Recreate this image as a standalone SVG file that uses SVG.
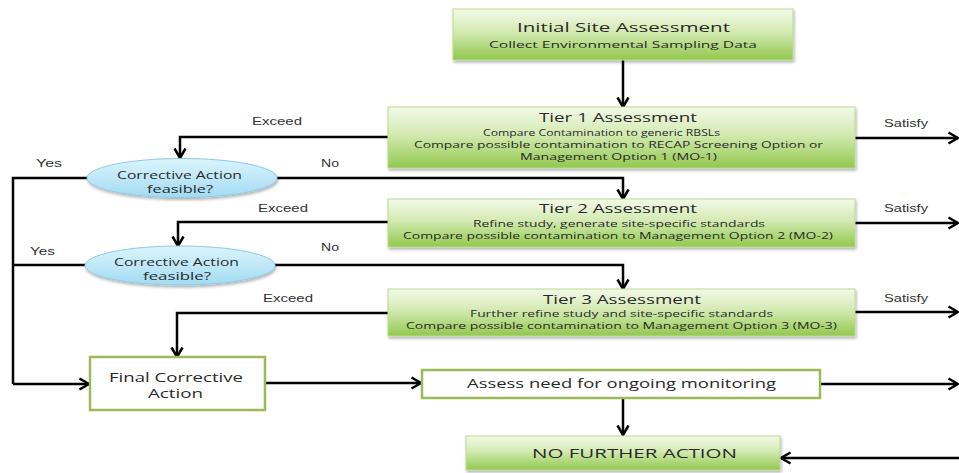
<svg xmlns="http://www.w3.org/2000/svg" width="959" height="473" viewBox="0 0 959 473">
  <style>
    .head { font-family: "Open Sans", "Liberation Sans", sans-serif; font-size: 13.5px; fill: #2a2a2a; }
    .sub { font-family: "Open Sans", "Liberation Sans", sans-serif; font-size: 9.3px; fill: #2a2a2a; }
    .dec { font-family: "Open Sans", "Liberation Sans", sans-serif; font-size: 10.5px; fill: #2a2a2a; }
    .plain { font-family: "Open Sans", "Liberation Sans", sans-serif; font-size: 12.5px; fill: #2a2a2a; }
    .lbl { font-family: "Liberation Sans", Arial, sans-serif; font-size: 10.5px; fill: #333333; }
    .gbox { fill: url(#green); stroke: #b9db92; stroke-width: 1; filter: url(#shadow); }
    .wbox { fill: #ffffff; stroke: #9bbb59; stroke-width: 2.5; }
    .decision { fill: url(#blue); stroke: #8ccbe4; stroke-width: 1; filter: url(#shadow); }
    .wire { fill: none; stroke: #000000; stroke-width: 2.5; stroke-linejoin: miter; }
    .wire.arrow { marker-end: url(#arrow); }
  </style>
  <defs>
    <linearGradient id="green" x1="0" y1="0" x2="0" y2="1">
      <stop offset="0" stop-color="#f3f9e8"/>
      <stop offset="0.45" stop-color="#d3eab2"/>
      <stop offset="1" stop-color="#92c84d"/>
    </linearGradient>
    <linearGradient id="blue" x1="0" y1="0" x2="0" y2="1">
      <stop offset="0" stop-color="#dcf4fd"/>
      <stop offset="1" stop-color="#a2dbf2"/>
    </linearGradient>
    <filter id="shadow" x="-5%" y="-15%" width="110%" height="140%">
      <feDropShadow dx="1" dy="2" stdDeviation="1.5" flood-color="#000000" flood-opacity="0.3"/>
    </filter>
    <marker id="arrow" markerUnits="userSpaceOnUse" markerWidth="14" markerHeight="14" refX="11" refY="7" orient="auto">
      <path d="M1.5,1.5 L11,7 L1.5,12.5" fill="none" stroke="#000000" stroke-width="2.5"/>
    </marker>
  </defs>

  <!-- connectors -->
  <g id="connectors">
    <path class="wire arrow" d="M623,60 V107"/>
    <!-- tier 1 -->
    <path class="wire arrow" d="M389,137 H180 V158"/>
    <path class="wire arrow" d="M855,138 H958"/>
    <path class="wire" d="M87,178 H13 V384"/>
    <path class="wire arrow" d="M277,178 H623 V199"/>
    <!-- tier 2 -->
    <path class="wire arrow" d="M389,222 H178 V246"/>
    <path class="wire arrow" d="M855,223 H958"/>
    <path class="wire" d="M85,265 H13"/>
    <path class="wire arrow" d="M275,265 H623 V289"/>
    <!-- tier 3 -->
    <path class="wire arrow" d="M389,313 H177 V357"/>
    <path class="wire arrow" d="M855,312 H958"/>
    <!-- final stages -->
    <path class="wire arrow" d="M13,384 H89"/>
    <path class="wire arrow" d="M266,383 H421"/>
    <path class="wire arrow" d="M821,384 H958"/>
    <path class="wire arrow" d="M623,398 V435"/>
    <path class="wire arrow" d="M959,458 H781"/>
    <!-- branch labels -->
    <text class="lbl" x="252" y="125" textLength="50" lengthAdjust="spacingAndGlyphs">Exceed</text>
    <text class="lbl" x="258" y="212" textLength="50" lengthAdjust="spacingAndGlyphs">Exceed</text>
    <text class="lbl" x="263" y="302" textLength="50" lengthAdjust="spacingAndGlyphs">Exceed</text>
    <text class="lbl" x="36" y="167" textLength="26" lengthAdjust="spacingAndGlyphs">Yes</text>
    <text class="lbl" x="30" y="255" textLength="25" lengthAdjust="spacingAndGlyphs">Yes</text>
    <text class="lbl" x="321" y="167" textLength="18" lengthAdjust="spacingAndGlyphs">No</text>
    <text class="lbl" x="321" y="251" textLength="18" lengthAdjust="spacingAndGlyphs">No</text>
    <text class="lbl" x="884" y="127" textLength="44" lengthAdjust="spacingAndGlyphs">Satisfy</text>
    <text class="lbl" x="884" y="212" textLength="44" lengthAdjust="spacingAndGlyphs">Satisfy</text>
    <text class="lbl" x="884" y="302" textLength="44" lengthAdjust="spacingAndGlyphs">Satisfy</text>
  </g>

  <g id="initial-assessment">
    <rect class="gbox" x="453" y="9" width="340" height="51"/>
    <text class="head" x="517" y="32" font-size="14.5" textLength="213" lengthAdjust="spacingAndGlyphs">Initial Site Assessment</text>
    <text class="sub" x="489" y="48" font-size="10.5" textLength="268" lengthAdjust="spacingAndGlyphs">Collect Environmental Sampling Data</text>
  </g>

  <g id="tier1">
    <rect class="gbox" x="388" y="107" width="467" height="61"/>
    <text class="head" x="539" y="122" textLength="158" lengthAdjust="spacingAndGlyphs">Tier 1 Assessment</text>
    <text class="sub" x="483" y="135.5" textLength="237" lengthAdjust="spacingAndGlyphs">Compare Contamination to generic RBSLs</text>
    <text class="sub" x="414" y="147.5" textLength="409" lengthAdjust="spacingAndGlyphs">Compare possible contamination to RECAP Screening Option or</text>
    <text class="sub" x="520" y="159.5" textLength="197" lengthAdjust="spacingAndGlyphs">Management Option 1 (MO-1)</text>
  </g>

  <g id="decision1">
    <ellipse class="decision" cx="182" cy="178" rx="95" ry="19.5"/>
    <text class="dec" x="117" y="178.5" textLength="125" lengthAdjust="spacingAndGlyphs">Corrective Action</text>
    <text class="dec" x="147" y="193" textLength="66" lengthAdjust="spacingAndGlyphs">feasible?</text>
  </g>

  <g id="tier2">
    <rect class="gbox" x="388" y="199" width="467" height="48"/>
    <text class="head" x="539" y="213" textLength="158" lengthAdjust="spacingAndGlyphs">Tier 2 Assessment</text>
    <text class="sub" x="473" y="226.5" textLength="292" lengthAdjust="spacingAndGlyphs">Refine study, generate site-specific standards</text>
    <text class="sub" x="403" y="239" textLength="430" lengthAdjust="spacingAndGlyphs">Compare possible contamination to Management Option 2 (MO-2)</text>
  </g>

  <g id="decision2">
    <ellipse class="decision" cx="180" cy="265.5" rx="95" ry="19.5"/>
    <text class="dec" x="114" y="265.5" textLength="125" lengthAdjust="spacingAndGlyphs">Corrective Action</text>
    <text class="dec" x="143" y="280" textLength="68" lengthAdjust="spacingAndGlyphs">feasible?</text>
  </g>

  <g id="tier3">
    <rect class="gbox" x="388" y="289" width="467" height="47"/>
    <text class="head" x="543" y="304" textLength="158" lengthAdjust="spacingAndGlyphs">Tier 3 Assessment</text>
    <text class="sub" x="470" y="316.5" textLength="303" lengthAdjust="spacingAndGlyphs">Further refine study and site-specific standards</text>
    <text class="sub" x="406" y="329" textLength="431" lengthAdjust="spacingAndGlyphs">Compare possible contamination to Management Option 3 (MO-3)</text>
  </g>

  <g id="final-corrective-action">
    <rect class="wbox" x="90" y="357" width="175" height="53"/>
    <text class="plain" x="109" y="382" textLength="134" lengthAdjust="spacingAndGlyphs">Final Corrective</text>
    <text class="plain" x="148" y="398" textLength="55" lengthAdjust="spacingAndGlyphs">Action</text>
  </g>

  <g id="monitoring">
    <rect class="wbox" x="422" y="370" width="398" height="28"/>
    <text class="plain" x="467" y="388" textLength="309" lengthAdjust="spacingAndGlyphs">Assess need for ongoing monitoring</text>
  </g>

  <g id="no-further-action">
    <rect class="gbox" x="466" y="436" width="314" height="34"/>
    <text class="head" x="532" y="458" font-size="14" textLength="205" lengthAdjust="spacingAndGlyphs">NO FURTHER ACTION</text>
  </g>
</svg>
